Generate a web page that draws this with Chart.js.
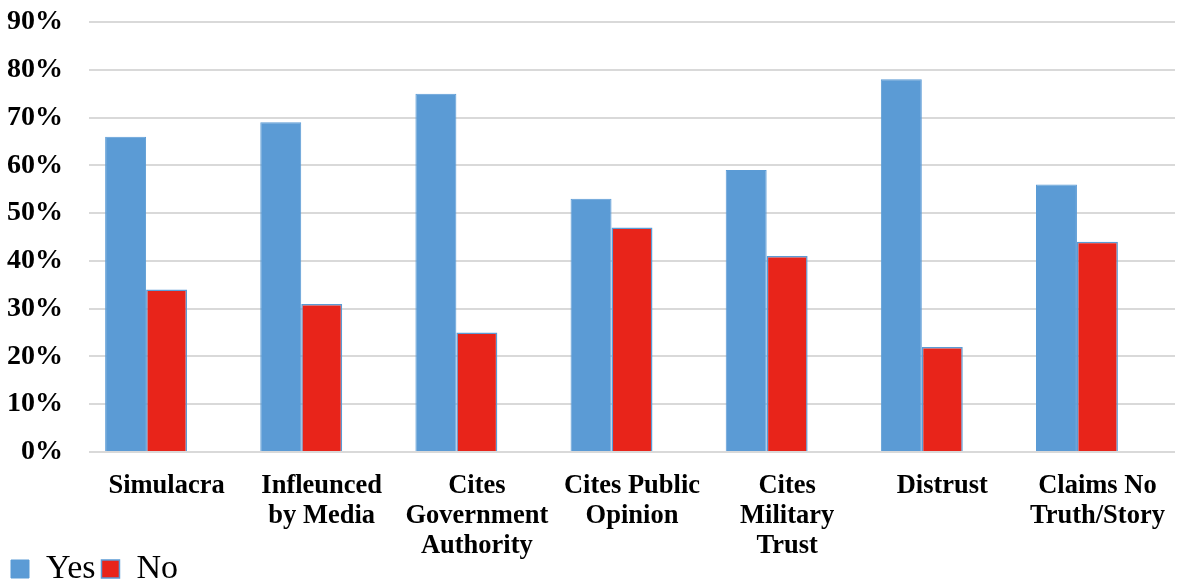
<!DOCTYPE html>
<html>
<head>
<meta charset="utf-8">
<script src="https://cdn.jsdelivr.net/npm/chart.js@4/dist/chart.umd.min.js"></script>
<style>
  html, body { margin: 0; padding: 0; background: #fff; }
  #wrap { width: 1178px; height: 583px; position: relative; }
</style>
</head>
<body>
<div id="wrap"><canvas id="chart"></canvas></div>
<script>
const categories = [
  'Simulacra',
  ['Infleunced', 'by Media'],
  ['Cites', 'Government', 'Authority'],
  ['Cites Public', 'Opinion'],
  ['Cites', 'Military', 'Trust'],
  'Distrust',
  ['Claims No', 'Truth/Story'],
];
const yesValues = [66, 69, 75, 53, 59, 78, 56];
const noValues = [34, 31, 25, 47, 41, 22, 44];
// Excel sheet had a third, empty series: it keeps its slot in each group
const emptyValues = [null, null, null, null, null, null, null];
const yTicks = [0, 10, 20, 30, 40, 50, 60, 70, 80, 90];

const serif = "'Liberation Serif', 'Times New Roman', serif";
const blue = '#5B9BD5';
const red = '#E8241A';

// legend sits in the strip under the longest axis labels
const legendLift = {
  id: 'legendLift',
  afterLayout: (chart) => {
    chart.legend.top -= 16;
  },
};

const chart = new Chart(document.querySelector('#chart'), {
  type: 'bar',
  data: {
    labels: categories,
    datasets: [
      {
        label: 'Yes',
        data: yesValues,
        backgroundColor: blue,
        borderColor: blue,
        borderWidth: 1,
      },
      {
        label: 'No',
        data: noValues,
        backgroundColor: red,
        borderColor: blue,
        borderWidth: 1.5,
      },
      {
        label: '',
        data: emptyValues,
        backgroundColor: 'transparent',
      },
    ],
  },
  options: {
    responsive: true,
    maintainAspectRatio: false,
    animation: false,
    layout: {
      padding: { left: 5, right: 3, top: 22, bottom: 0 },
    },
    datasets: {
      bar: {
        categoryPercentage: 0.792,
        barPercentage: 1.0,
      },
    },
    scales: {
      x: {
        grid: { display: false, drawTicks: false },
        border: { display: false },
        ticks: {
          color: '#000',
          padding: 19,
          maxRotation: 0,
          autoSkip: false,
          font: { family: serif, size: 26.5, weight: 'bold', lineHeight: 1.13 },
        },
        afterFit: (scale) => {
          scale.height = 110;
          scale.paddingLeft = 0;
          scale.paddingRight = 0;
        },
      },
      y: {
        min: 0,
        max: 90,
        afterBuildTicks: (scale) => {
          scale.ticks = yTicks.map((v) => ({ value: v }));
        },
        grid: {
          color: '#D9D9D9',
          lineWidth: 2,
          drawTicks: true,
          tickLength: 22,
          tickColor: 'rgba(0,0,0,0)',
        },
        border: { display: false },
        ticks: {
          color: '#000',
          padding: 4,
          callback: (v) => `${v}%`,
          font: { family: serif, size: 28, weight: 'bold' },
        },
        afterFit: (scale) => {
          scale.width = 84;
        },
      },
    },
    plugins: {
      legend: {
        position: 'bottom',
        align: 'start',
        maxHeight: 21,
        labels: {
          color: '#000',
          boxWidth: 18,
          boxHeight: 18,
          padding: 6,
          font: { family: serif, size: 34 },
          filter: (item) => item.text !== '',
        },
      },
      tooltip: { enabled: false },
    },
  },
  plugins: [legendLift],
});
</script>
</body>
</html>
